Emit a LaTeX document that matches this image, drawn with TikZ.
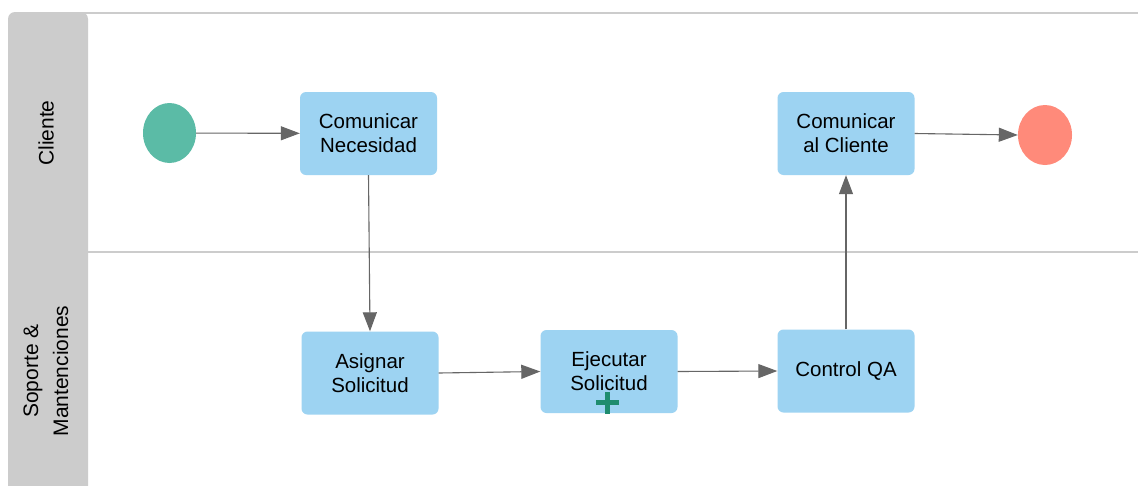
\documentclass[tikz,border=0pt]{standalone}
\usepackage{fontspec}
\setmainfont{Liberation Sans}
\usetikzlibrary{arrows.meta,shapes.geometric}
\definecolor{lanegray}{HTML}{CCCCCC}
\definecolor{lineclr}{HTML}{CCCCCC}
\definecolor{taskfill}{HTML}{9DD3F2}
\definecolor{startfill}{HTML}{5BBBA6}
\definecolor{endfill}{HTML}{FF8A7A}
\definecolor{flowclr}{HTML}{666666}
\definecolor{markclr}{HTML}{1E8C6E}
\tikzset{
  task/.style={draw=none, fill=taskfill, rounded corners=6pt, minimum width=137pt,
    minimum height=83pt, align=center, font=\fontsize{20.5}{24}\selectfont, inner sep=0pt},
  startev/.style={ellipse, fill=startfill, minimum width=53pt, minimum height=60pt, inner sep=0pt},
  endev/.style={ellipse, fill=endfill, minimum width=54pt, minimum height=60pt, inner sep=0pt},
  flow/.style={draw=flowclr, line width=1.1pt, -{Triangle[length=19pt,width=14pt]}},
  lanelabel/.style={rotate=90, align=center, font=\fontsize{21}{30}\selectfont},
}
\begin{document}
\begin{tikzpicture}[x=1pt,y=-1pt]
\useasboundingbox (0,0) rectangle (1138,485);
\fill[white] (0,0) rectangle (1138,485);
% pool header band
\fill[lanegray, rounded corners=7pt] (8,490) -- (8,12) -- (88,12) [sharp corners] -- (88,490) -- cycle;
% pool top border and lane divider
\draw[lineclr, line width=2pt] (80,13) -- (1138,13);
\draw[lineclr, line width=1.5pt] (88,252) -- (1138,252);
% lane names
\node[lanelabel] (lane1) at (46,133) {Cliente};
\node[lanelabel] (lane2) at (46,371) {Soporte \&\\Mantenciones};
% events and tasks
\node[startev] (start) at (169.5,133) {};
\node[task] (cn) at (368.5,133.5) {Comunicar\\Necesidad};
\node[task] (cc) at (846,133.5) {Comunicar\\al Cliente};
\node[endev] (end) at (1045,135) {};
\node[task] (as) at (370,373) {Asignar\\Solicitud};
\node[task] (ej) at (609,371.5) {Ejecutar\\Solicitud};
\node[task] (qa) at (846,371) {Control QA};
% subprocess marker
\coordinate (plus) at (607.5,402.5);
\draw[markclr, line width=4.5pt] ([xshift=-11.5pt]plus) -- ([xshift=11.5pt]plus)
  ([yshift=-11pt]plus) -- ([yshift=11pt]plus);
% sequence flows
\draw[flow] (start) -- (cn);
\draw[flow] (cn.south) -- (as.north);
\draw[flow] (as.east) -- (ej.west);
\draw[flow] (ej.east) -- (qa.west);
\draw[flow] (qa.north) -- (cc.south);
\draw[flow] (cc.east) -- (end.west);
\end{tikzpicture}
\end{document}
